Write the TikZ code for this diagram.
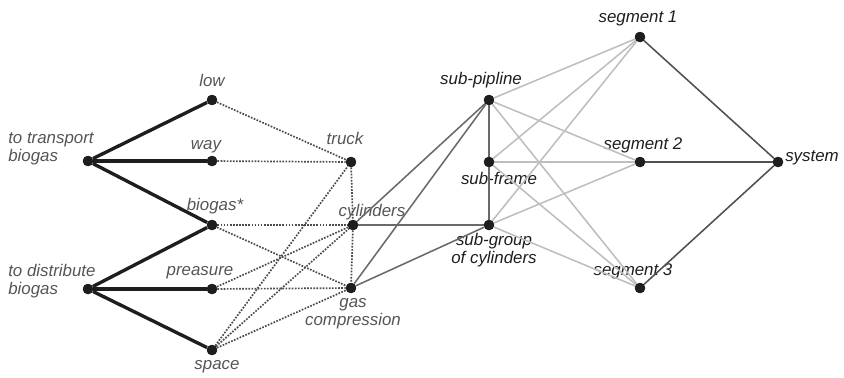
\documentclass[tikz,border=0pt]{standalone}
\usepackage{fontspec}
\setmainfont{Liberation Sans}
\usepackage{tikz}
\usetikzlibrary{arrows.meta, positioning}
\definecolor{dotblack}{HTML}{1E1E1E}
\definecolor{txtgray}{HTML}{555555}
\definecolor{txtdark}{HTML}{1E1E1E}
\definecolor{linkdark}{HTML}{6A6A6A}
\definecolor{linklight}{HTML}{BEBEBE}
\definecolor{linksys}{HTML}{505050}

\tikzset{
  pt/.style={circle, fill=dotblack, inner sep=0pt, minimum size=0.26cm},
  txt/.style={font=\fontsize{12}{13}\selectfont\itshape, text=txtgray, inner sep=0pt, align=center},
  txtb/.style={txt, text=txtdark},
  goal/.style={line width=2.4pt, dotblack},
  assoc/.style={densely dotted, line width=1.2pt, dotblack!80},
  part/.style={line width=1.1pt, linkdark},
  seg/.style={line width=1.1pt, linklight},
  sys/.style={line width=1.1pt, linksys}
}

\begin{document}
\begin{tikzpicture}[>=Stealth, x=0.025cm, y=-0.025cm]
  \useasboundingbox (0,0) rectangle (844,377);

  % goals and their attributes
  \node[pt] (transport) at (88,161) {};
  \node[pt] (distribute) at (88,289) {};
  \node[pt] (low) at (212,100) {};
  \node[pt] (way) at (212,161) {};
  \node[pt] (biogas) at (212,225) {};
  \node[pt] (preasure) at (212,289) {};
  \node[pt] (space) at (212,350) {};

  % means
  \node[pt] (truck) at (351,162) {};
  \node[pt] (cylinders) at (353,225) {};
  \node[pt] (gascomp) at (351,288) {};

  % subsystems, segments, system
  \node[pt] (subpipe) at (489,100) {};
  \node[pt] (subframe) at (489,162) {};
  \node[pt] (subgroup) at (489,225) {};
  \node[pt] (seg1) at (640,37) {};
  \node[pt] (seg2) at (640,162) {};
  \node[pt] (seg3) at (640,288) {};
  \node[pt] (system) at (778,162) {};

  % labels
  \node[txt, align=left, anchor=west] (transport-t) at (8,149) {to transport\\biogas};
  \node[txt, align=left, anchor=west] (distribute-t) at (8,281) {to distribute\\biogas};
  \node[txt] (low-t) at (212,80) {low};
  \node[txt] (way-t) at (206,147) {way};
  \node[txt] (biogas-t) at (215,206) {biogas*};
  \node[txt] (preasure-t) at (200,273) {preasure};
  \node[txt] (space-t) at (217,367) {space};
  \node[txt] (truck-t) at (345,138) {truck};
  \node[txt] (cylinders-t) at (372,212) {cylinders};
  \node[txt] (gascomp-t) at (353,314) {gas\\compression};
  \node[txtb] (subpipe-t) at (481,80) {sub-pipline};
  \node[txtb] (subframe-t) at (499,178) {sub-frame};
  \node[txtb] (subgroup-t) at (494,250) {sub-group\\of cylinders};
  \node[txtb] (seg1-t) at (638,18) {segment 1};
  \node[txtb] (seg2-t) at (643,145) {segment 2};
  \node[txtb] (seg3-t) at (633,271) {segment 3};
  \node[txtb, anchor=west] (system-t) at (785,158) {system};

  % connectors
  \foreach \a/\b in {seg1/subpipe, seg1/subframe, seg1/subgroup,
                     seg2/subpipe, seg2/subframe, seg2/subgroup,
                     seg3/subpipe, seg3/subframe, seg3/subgroup}
    \draw[seg] (\a) -- (\b);
  \foreach \a/\b in {subpipe/subframe, subframe/subgroup, cylinders/subpipe,
                     gascomp/subpipe, cylinders/subgroup, gascomp/subgroup}
    \draw[part] (\a) -- (\b);
  \foreach \a in {seg1, seg2, seg3}
    \draw[sys] (\a) -- (system);
  \foreach \a/\b in {low/truck, way/truck, biogas/cylinders, biogas/gascomp,
                     preasure/cylinders, preasure/gascomp, space/truck,
                     space/cylinders, space/gascomp, truck/cylinders, cylinders/gascomp}
    \draw[assoc] (\a) -- (\b);
  \foreach \a/\b in {transport/low, transport/way, transport/biogas,
                     distribute/biogas, distribute/preasure, distribute/space}
    \draw[goal] (\a) -- (\b);

  % dots on top of the lines
  \foreach \n in {transport, distribute, low, way, biogas, preasure, space,
                  truck, cylinders, gascomp, subpipe, subframe, subgroup,
                  seg1, seg2, seg3, system}
    \fill[dotblack] (\n) circle (0.13cm);
\end{tikzpicture}
\end{document}
